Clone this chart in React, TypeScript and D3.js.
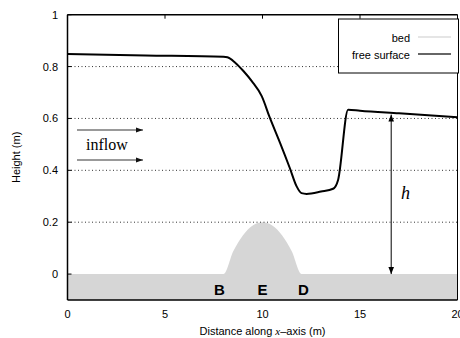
import React from "react";
import * as d3 from "d3";

const xTicks = [0, 5, 10, 15, 20];
const yTicks = [0, 0.2, 0.4, 0.6, 0.8, 1];
const gridValues = [0.2, 0.4, 0.6, 0.8];

const bedX = [0, 8, 8.5, 9, 9.5, 10, 10.5, 11, 11.5, 12, 20];
const bedZ = [0, 0, 0.0875, 0.15, 0.1875, 0.2, 0.1875, 0.15, 0.0875, 0, 0];

const surfX = [0, 4, 8, 8.2, 8.6, 9.02, 9.45, 9.96, 10.38, 10.9, 11.4, 11.75, 12.0, 12.26, 13.0, 13.62, 13.88, 14.39, 15, 17, 20];
const surfZ = [0.848, 0.843, 0.838, 0.836, 0.815, 0.783, 0.744, 0.686, 0.602, 0.506, 0.409, 0.338, 0.312, 0.309, 0.318, 0.329, 0.364, 0.634, 0.630, 0.62, 0.605];

const markerLabels = ["B", "E", "D"];
const markerX = [8, 10, 12];

const W = 460, H = 338;
const L = 67.5, R = 457.5, T = 14.7, B = 300;

export default function App() {
  const x = d3.scaleLinear().domain([0, 20]).range([L, R]);
  const y = d3.scaleLinear().domain([-0.1, 1]).range([B, T]);

  const bedPts: [number, number][] = bedX.map((v, i) => [v, bedZ[i]]);
  const area = d3.area<[number, number]>()
    .x(d => x(d[0]))
    .y0(y(-0.1))
    .y1(d => y(d[1]))
    .curve(d3.curveMonotoneX);
  const surfPts: [number, number][] = surfX.map((v, i) => [v, surfZ[i]]);
  const line = d3.line<[number, number]>().x(d => x(d[0])).y(d => y(d[1])).curve(d3.curveMonotoneX);

  const font = "'Liberation Sans', Arial, Helvetica, sans-serif";
  const serif = "'Liberation Serif', 'Times New Roman', serif";
  const hx = x(16.6);

  return (
    <svg width={W} height={H} style={{ position: "absolute", left: 0, top: 0, background: "#fff" }} fontFamily={font}>
      <defs>
        <clipPath id="plot">
          <rect x={L} y={T} width={R - L} height={B - T} />
        </clipPath>
        <marker id="ah" viewBox="0 0 10 10" refX="10" refY="5" markerWidth="7" markerHeight="7" orient="auto-start-reverse" markerUnits="userSpaceOnUse">
          <path d="M0,1 L10,5 L0,9 Z" fill="#000" />
        </marker>
        <marker id="ah2" viewBox="0 0 10 10" refX="10" refY="5" markerWidth="12" markerHeight="7" orient="auto" markerUnits="userSpaceOnUse">
          <path d="M0,1.5 L10,5 L0,8.5 Z" fill="#111" />
        </marker>
      </defs>
      <path d={area(bedPts) || ""} fill="#d6d6d6" clipPath="url(#plot)" />
      {gridValues.map(v => (
        <line key={v} x1={L} x2={R} y1={y(v)} y2={y(v)} stroke="#333" strokeWidth={1} strokeDasharray="1,2.5" />
      ))}
      <path d={line(surfPts) || ""} fill="none" stroke="#000" strokeWidth={2} strokeLinejoin="round" clipPath="url(#plot)" />
      {/* frame */}
      <line x1={L} x2={R} y1={T} y2={T} stroke="#000" strokeWidth={1.5} />
      <line x1={L} x2={R} y1={B} y2={B} stroke="#000" strokeWidth={1.5} />
      <line x1={L} x2={L} y1={T} y2={B} stroke="#000" strokeWidth={1.5} />
      <line x1={R} x2={R} y1={T} y2={B} stroke="#000" strokeWidth={1} />
      {xTicks.map(v => (
        <g key={v}>
          <line x1={x(v)} x2={x(v)} y1={T} y2={T + 4} stroke="#000" />
          <text x={x(v)} y={318} textAnchor="middle" fontSize={11}>{v}</text>
        </g>
      ))}
      {yTicks.map(v => (
        <g key={v}>
          <line x1={L} x2={L + 4} y1={y(v)} y2={y(v)} stroke="#000" />
          <text x={58} y={y(v) + 4} textAnchor="end" fontSize={11}>{v}</text>
        </g>
      ))}
      <text x={(L + R) / 2} y={335} textAnchor="middle" fontSize={11}>
        Distance along <tspan fontFamily={serif} fontStyle="italic">x</tspan>–axis (m)
      </text>
      <text transform={`translate(20,${(T + B) / 2}) rotate(-90)`} textAnchor="middle" fontSize={11}>Height (m)</text>
      {/* B E D */}
      {markerLabels.map((s, i) => (
        <text key={s} x={x(markerX[i]) - (i === 0 ? 4 : 0) + (i === 2 ? 2 : 0)} y={295} textAnchor="middle" fontSize={15} fontWeight="bold">{s}</text>
      ))}
      {/* inflow */}
      <line x1={77} x2={143} y1={130} y2={130} stroke="#777" strokeWidth={1.5} markerEnd="url(#ah2)" />
      <line x1={77} x2={143} y1={160} y2={160} stroke="#777" strokeWidth={1.5} markerEnd="url(#ah2)" />
      <text x={86} y={150} fontFamily={serif} fontSize={16}>inflow</text>
      {/* h arrow */}
      <line x1={hx} x2={hx} y1={y(0.615)} y2={y(0)} stroke="#000" strokeWidth={1} markerStart="url(#ah)" markerEnd="url(#ah)" />
      <text x={401} y={199} fontFamily={serif} fontStyle="italic" fontSize={18}>h</text>
      {/* legend */}
      <rect x={338.5} y={19} width={120} height={54} fill="#fff" stroke="#000" strokeWidth={1} />
      <text x={410} y={41.5} textAnchor="end" fontSize={11}>bed</text>
      <line x1={418} x2={451} y1={37} y2={37} stroke="#dcdcdc" strokeWidth={1.5} />
      <text x={410} y={58.5} textAnchor="end" fontSize={11}>free surface</text>
      <line x1={418} x2={451} y1={54} y2={54} stroke="#333" strokeWidth={1.5} />
    </svg>
  );
}
